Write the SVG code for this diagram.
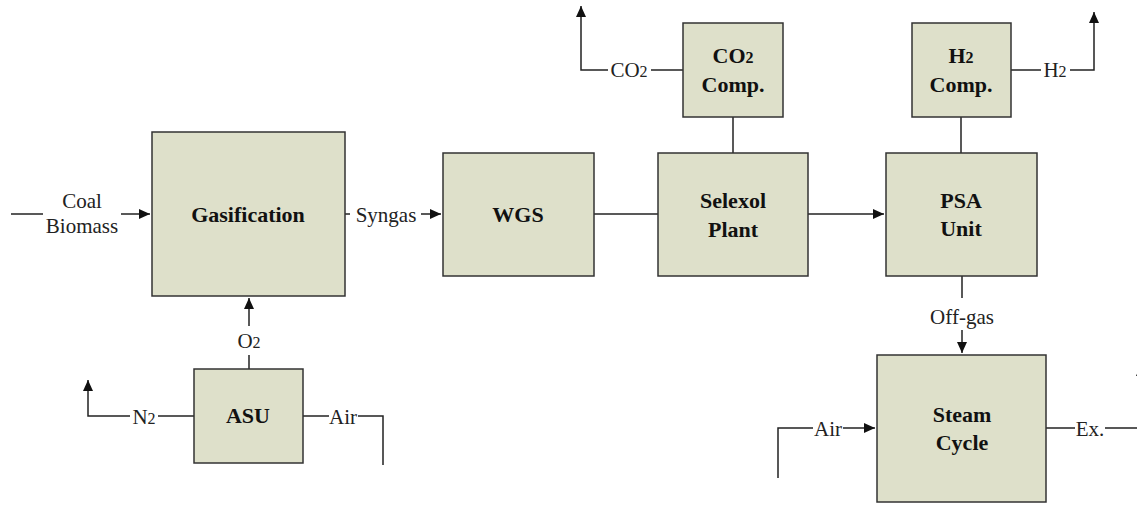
<svg xmlns="http://www.w3.org/2000/svg" width="1137" height="505" viewBox="0 0 1137 505">
<style>
.box{fill:#dee0ca;stroke:#333;stroke-width:1.5}
.t{font-family:'Liberation Serif','Times New Roman',serif;font-weight:bold;font-size:22px;fill:#111;text-anchor:middle}
.l{font-family:'Liberation Serif','Times New Roman',serif;font-size:21px;fill:#222;text-anchor:middle}
.c{fill:none;stroke:#222;stroke-width:1.5}
.s{font-size:16px}
</style>
<defs>
<marker id="ah" markerUnits="userSpaceOnUse" markerWidth="12" markerHeight="10" refX="11" refY="5" orient="auto">
<path d="M0,0 L11,5 L0,10 Z" fill="#111"/>
</marker>
</defs>
<g id="connectors">
<path class="c" d="M11,214 H43"/>
<path class="c" d="M121,214 H150" marker-end="url(#ah)"/>
<path class="c" d="M345,214 H350"/>
<path class="c" d="M421,214 H441" marker-end="url(#ah)"/>
<path class="c" d="M594,214 H658"/>
<path class="c" d="M808,214 H884" marker-end="url(#ah)"/>
<path class="c" d="M733,117 V153"/>
<path class="c" d="M961,117 V153"/>
<path class="c" d="M683,70 H651"/>
<path class="c" d="M608,70 H581 V6" marker-end="url(#ah)"/>
<path class="c" d="M1011,70 H1041"/>
<path class="c" d="M1070,70 H1094 V12" marker-end="url(#ah)"/>
<path class="c" d="M249,369 V355"/>
<path class="c" d="M249,326 V298" marker-end="url(#ah)"/>
<path class="c" d="M194,416 H158"/>
<path class="c" d="M130,416 H88 V380" marker-end="url(#ah)"/>
<path class="c" d="M303,416 H329"/>
<path class="c" d="M358,416 H383 V465"/>
<path class="c" d="M962,276 V298"/>
<path class="c" d="M962,330 V353" marker-end="url(#ah)"/>
<path class="c" d="M778,478 V428 H813"/>
<path class="c" d="M843,428 H875" marker-end="url(#ah)"/>
<path class="c" d="M1046,428 H1075"/>
<path class="c" d="M1105,428 H1141 V365" marker-end="url(#ah)"/>
</g>
<g id="labels">
<text class="l" x="82" y="208">Coal</text>
<text class="l" x="82" y="233">Biomass</text>
<text class="l" x="386" y="222">Syngas</text>
<text class="l" x="629" y="77">CO<tspan class="s">2</tspan></text>
<text class="l" x="1055" y="77">H<tspan class="s">2</tspan></text>
<text class="l" x="249" y="348">O<tspan class="s">2</tspan></text>
<text class="l" x="144" y="424">N<tspan class="s">2</tspan></text>
<text class="l" x="343" y="424">Air</text>
<text class="l" x="962" y="324">Off-gas</text>
<text class="l" x="828" y="436">Air</text>
<text class="l" x="1090" y="436">Ex.</text>
</g>
<g id="gasification">
<rect class="box" x="152" y="132" width="193" height="164"/>
<text class="t" x="248" y="222">Gasification</text>
</g>
<g id="wgs">
<rect class="box" x="443" y="153" width="151" height="123"/>
<text class="t" x="518" y="222">WGS</text>
</g>
<g id="selexol">
<rect class="box" x="658" y="153" width="150" height="123"/>
<text class="t" x="733" y="208">Selexol</text>
<text class="t" x="733" y="237">Plant</text>
</g>
<g id="psa">
<rect class="box" x="886" y="153" width="151" height="123"/>
<text class="t" x="961" y="208">PSA</text>
<text class="t" x="961" y="236">Unit</text>
</g>
<g id="co2comp">
<rect class="box" x="683" y="23" width="100" height="94"/>
<text class="t" x="733" y="63">CO<tspan class="s">2</tspan></text>
<text class="t" x="733" y="92">Comp.</text>
</g>
<g id="h2comp">
<rect class="box" x="912" y="23" width="99" height="94"/>
<text class="t" x="961" y="63">H<tspan class="s">2</tspan></text>
<text class="t" x="961" y="92">Comp.</text>
</g>
<g id="asu">
<rect class="box" x="194" y="369" width="109" height="94"/>
<text class="t" x="248" y="423">ASU</text>
</g>
<g id="steam">
<rect class="box" x="877" y="355" width="169" height="147"/>
<text class="t" x="962" y="422">Steam</text>
<text class="t" x="962" y="450">Cycle</text>
</g>
</svg>
